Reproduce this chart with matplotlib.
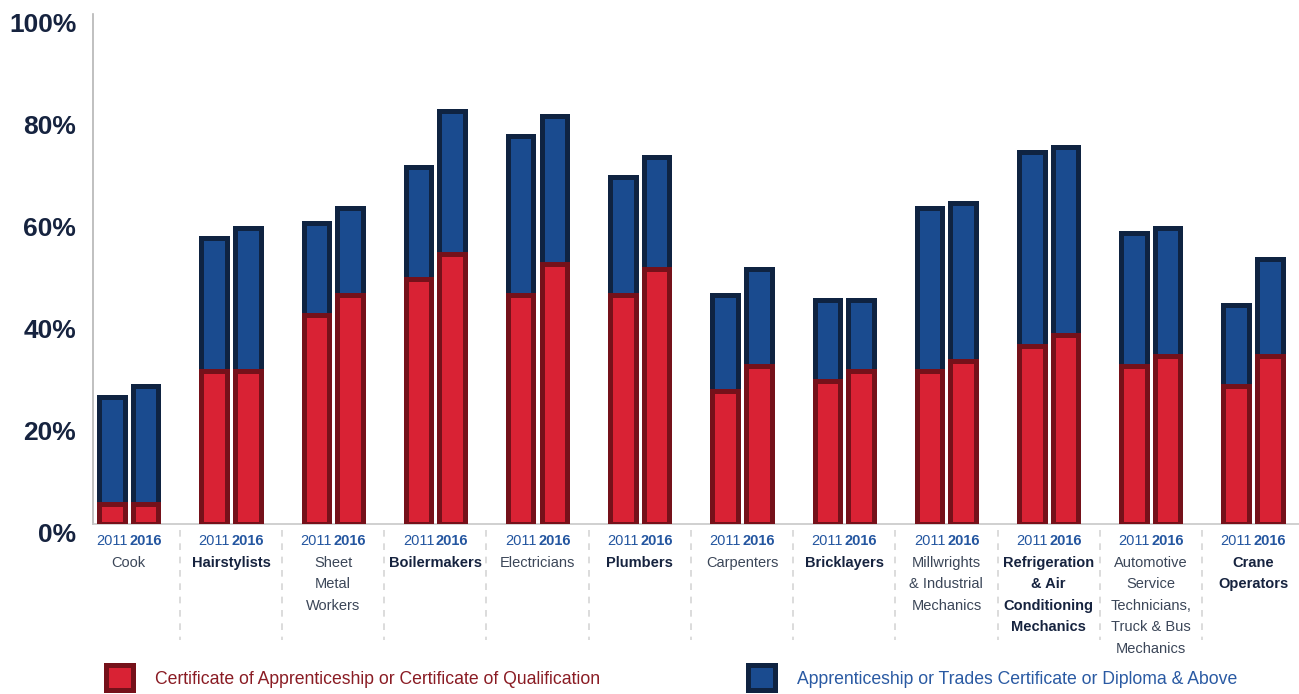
import matplotlib.pyplot as plt
import matplotlib.transforms as mtransforms
from matplotlib.patches import Rectangle

# 职业类别
trades = ["Cook", "Hairstylists", "Sheet\nMetal\nWorkers", "Boilermakers", "Electricians",
          "Plumbers", "Carpenters", "Bricklayers", "Millwrights\n& Industrial\nMechanics",
          "Refrigeration\n& Air\nConditioning\nMechanics",
          "Automotive\nService\nTechnicians,\nTruck & Bus\nMechanics", "Crane\nOperators"]
bold_trade = [False, True, False, True, False, True, False, True, False, True, False, True]

# 证书占比 (%)
cert_2011 = [4, 30, 41, 48, 45, 45, 26, 28, 30, 35, 31, 27]
cert_2016 = [4, 30, 45, 53, 51, 50, 31, 30, 32, 37, 33, 33]
# 学徒/职业证书及以上合计 (%)
total_2011 = [25, 56, 59, 70, 76, 68, 45, 44, 62, 73, 57, 43]
total_2016 = [27, 58, 62, 81, 80, 72, 50, 44, 63, 74, 58, 52]

years = ["2011", "2016"]
y_ticks = [0, 20, 40, 60, 80, 100]

RED, RED_EDGE = "#d92234", "#75111a"
BLUE, BLUE_EDGE = "#1a4b8f", "#0f2341"
NAVY = "#16233f"
YEAR_BLUE = "#2456a0"

plt.rcParams['font.family'] = ['Liberation Sans', 'DejaVu Sans']

fig = plt.figure(figsize=(12.99, 6.94), dpi=100)
ax = fig.add_axes([93 / 1299, 1 - 524 / 694, 1 - 93 / 1299, 510 / 694])

x = list(range(len(trades)))
w = 0.25
off = 0.165
lw = 3.6

for shift, cert, total in [(-off, cert_2011, total_2011), (off, cert_2016, total_2016)]:
    xs = [i + shift for i in x]
    ax.bar(xs, total, width=w, color=BLUE, edgecolor=BLUE_EDGE, linewidth=lw, zorder=2)
    ax.bar(xs, cert, width=w, color=RED, edgecolor=RED_EDGE, linewidth=lw, zorder=3)

ax.set_xlim(-0.35, 11.45)
ax.set_ylim(0, 100)

# --- 坐标轴样式 ---
for s in ["top", "right"]:
    ax.spines[s].set_visible(False)
ax.spines["left"].set_color("#b5b5b5")
ax.spines["bottom"].set_color("#c8c8c8")
ax.spines["left"].set_linewidth(1.2)
ax.spines["bottom"].set_linewidth(1.2)
ax.set_xticks([])
ax.set_yticks(y_ticks)
ax.set_yticklabels([f"{t}%" for t in y_ticks], fontsize=19, fontweight="bold", color=NAVY)
ax.tick_params(axis="y", length=0, pad=12)
shift_down = mtransforms.ScaledTranslation(0, -8 / 100, fig.dpi_scale_trans)
for lab in ax.get_yticklabels():
    lab.set_transform(lab.get_transform() + shift_down)

# --- 年份与类别标签 ---
trans = mtransforms.blended_transform_factory(ax.transData, ax.transAxes)
for i, name in enumerate(trades):
    ax.text(i - off, -0.033, years[0], transform=trans, ha="center", va="center",
            fontsize=10.5, color=YEAR_BLUE)
    ax.text(i + off, -0.033, years[1], transform=trans, ha="center", va="center",
            fontsize=10.5, color=YEAR_BLUE, fontweight="bold")
    ax.text(i, -0.062, name, transform=trans, ha="center", va="top", fontsize=10.5,
            linespacing=1.68, fontweight="bold" if bold_trade[i] else "normal",
            color=NAVY if bold_trade[i] else "#3b4658")
    if i > 0:
        ax.plot([i - 0.5, i - 0.5], [-0.012, -0.227], transform=trans, clip_on=False,
                color="#d5d5d5", linestyle=(0, (4, 4)), linewidth=1.2)

# --- 图例 ---
legend_items = [
    (106, RED, RED_EDGE, 155, "Certificate of Apprenticeship or Certificate of Qualification", "#8a1c24"),
    (748, BLUE, BLUE_EDGE, 797, "Apprenticeship or Trades Certificate or Diploma & Above", "#2a5aa3"),
]
for px, fc, ec, tx, label, tc in legend_items:
    fig.add_artist(Rectangle((px / 1299, 1 - 690 / 694), 27 / 1299, 25 / 694,
                             transform=fig.transFigure, facecolor=fc, edgecolor=ec,
                             linewidth=3.6))
    fig.text(tx / 1299, 1 - 679 / 694, label, ha="left", va="center", fontsize=12.7, color=tc)

fig.savefig("out.png", dpi=100)
